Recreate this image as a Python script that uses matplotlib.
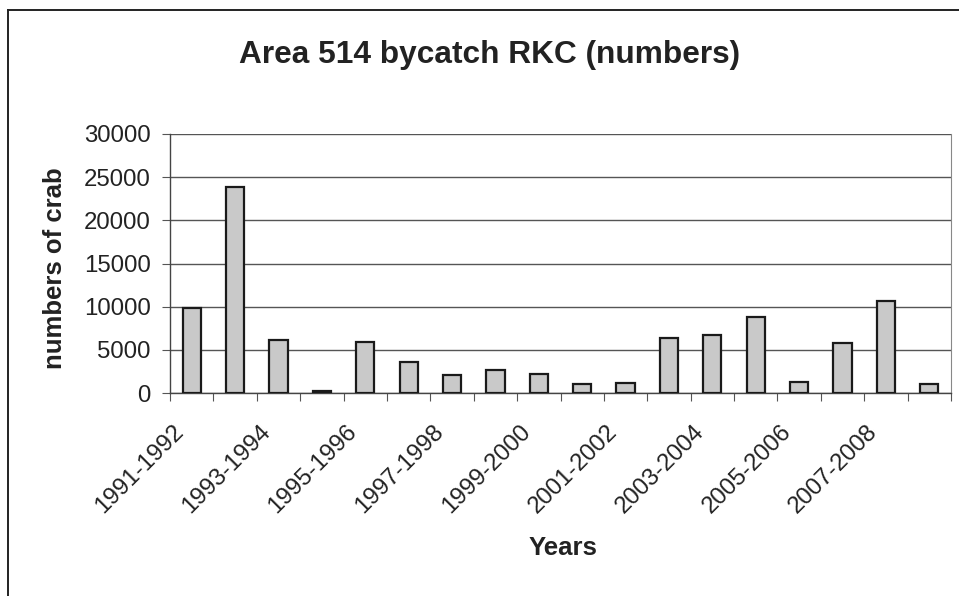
import matplotlib
matplotlib.use("Agg")
import matplotlib.pyplot as plt
from matplotlib.lines import Line2D

plt.rcParams['font.family'] = ['Liberation Sans', 'DejaVu Sans']

seasons = ["1991-1992", "1992-1993", "1993-1994", "1994-1995", "1995-1996",
           "1996-1997", "1997-1998", "1998-1999", "1999-2000", "2000-2001",
           "2001-2002", "2002-2003", "2003-2004", "2004-2005", "2005-2006",
           "2006-2007", "2007-2008", "2008-2009"]
crab_counts = [9900, 23900, 6100, 250, 5900, 3600, 2100, 2700, 2250,
               1000, 1200, 6400, 6700, 8800, 1300, 5800, 10700, 1100]
y_ticks = [0, 5000, 10000, 15000, 20000, 25000, 30000]

W, H = 959, 596
fig = plt.figure(figsize=(W / 100, H / 100), dpi=100)
ax = fig.add_axes([170 / W, 1 - 393 / H, (951 - 170) / W, (393 - 134) / H])

x = list(range(len(seasons)))
ax.bar(x, crab_counts, width=0.42, color='#c9c9c9', edgecolor='#1a1a1a',
       linewidth=1.6, zorder=3)

ax.set_xlim(-0.5, len(seasons) - 0.5)
ax.set_ylim(0, 30000)
ax.set_yticks(y_ticks)
ax.set_yticklabels([str(v) for v in y_ticks], fontsize=17.3, color='#222222')
ax.yaxis.grid(True, color='#555555', linewidth=1.0, zorder=0)
ax.tick_params(axis='y', length=6, width=0.8, color='#555555', pad=8)

# category boundary ticks, labels on every other category
ax.set_xticks([i - 0.5 for i in range(len(seasons) + 1)], minor=False)
ax.set_xticklabels([])
ax.tick_params(axis='x', which='major', length=6, width=0.8, color='#555555')
for i in range(0, len(seasons) - 1, 2):
    ax.annotate(seasons[i], xy=(i, 0), xycoords=('data', 'axes fraction'),
                xytext=(-14, -20), textcoords='offset points',
                rotation=45, ha='right', va='top', rotation_mode='anchor',
                fontsize=17.3, color='#222222', annotation_clip=False)

for side in ['left', 'bottom']:
    ax.spines[side].set_color('#444444')
    ax.spines[side].set_linewidth(1.0)
ax.spines['top'].set_visible(False)
ax.spines['right'].set_color('#888888')
ax.spines['right'].set_linewidth(0.8)

fig.text(490 / W, 1 - 55 / H, "Area 514 bycatch RKC (numbers)",
         fontsize=22.8, fontweight='bold', color='#222222', ha='center', va='center')
fig.text(55 / W, 1 - 268 / H, "numbers of crab", rotation=90,
         fontsize=18.5, fontweight='bold', color='#222222', ha='center', va='center')
fig.text(563 / W, 1 - 548 / H, "Years",
         fontsize=18.5, fontweight='bold', color='#222222', ha='center', va='center')

# outer chart frame
fig.add_artist(Line2D([8 / W, 1.0], [1 - 10 / H, 1 - 10 / H], transform=fig.transFigure,
                      color='#222222', linewidth=1.4))
fig.add_artist(Line2D([8 / W, 8 / W], [0, 1 - 10 / H], transform=fig.transFigure,
                      color='#222222', linewidth=1.4))

fig.savefig("out.png", dpi=100)
